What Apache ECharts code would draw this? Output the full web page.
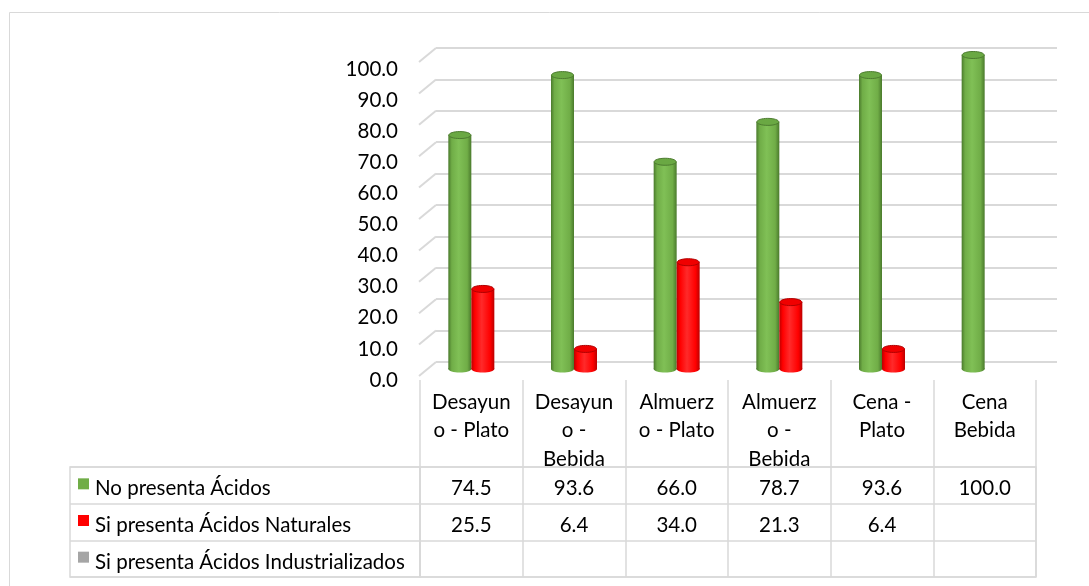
<!DOCTYPE html>
<html>
<head>
<meta charset="utf-8">
<script src="https://cdn.jsdelivr.net/npm/echarts@6.0.0/dist/echarts.min.js"></script>
<style>
  html, body { margin: 0; padding: 0; background: #fff; }
  #chart { width: 1089px; height: 586px; }
</style>
</head>
<body>
<div id="chart"></div>
<script>
// categories (as wrapped in the table header)
const categories = ['Desayun\no - Plato', 'Desayun\no -\nBebida', 'Almuerz\no - Plato', 'Almuerz\no -\nBebida', 'Cena -\nPlato', 'Cena\nBebida'];
const seriesNames = ['No presenta Ácidos', 'Si presenta Ácidos Naturales', 'Si presenta Ácidos Industrializados'];
const noPresenta = [74.5, 93.6, 66.0, 78.7, 93.6, 100.0];
const naturales = [25.5, 6.4, 34.0, 21.3, 6.4, null];
const industrializados = [null, null, null, null, null, null];
const tickValues = [0, 10, 20, 30, 40, 50, 60, 70, 80, 90, 100];

const FONT = 'Lato';
const FS = 20.5;
const GRID_C = '#d9d9d9';
const palette = [
  { base: '#70ad47', dark: '#4a7a2c', light: '#80c056', top: '#6aa843', edge: '#4d7c30' },
  { base: '#ff0000', dark: '#bb0000', light: '#ff2a2a', top: '#f00000', edge: '#b00000' },
  { base: '#a5a5a5', dark: '#7f7f7f', light: '#b5b5b5', top: '#a0a0a0', edge: '#808080' }
];
const allSeries = [noPresenta, naturales, industrializados];

function bodyGrad(c) {
  return new echarts.graphic.LinearGradient(0, 0, 1, 0, [
    { offset: 0, color: c.dark },
    { offset: 0.15, color: c.base },
    { offset: 0.45, color: c.light },
    { offset: 0.82, color: c.base },
    { offset: 1, color: c.dark }
  ]);
}

const BAR_W = 23;
function cylinder(si) {
  const c = palette[si];
  const off = (si === 0 ? -0.5 : 0.5) * BAR_W;
  return function (params, api) {
    const v = api.value(1);
    if (v == null || isNaN(v)) return null;
    const t = api.coord([api.value(0), v]);
    const b = api.coord([api.value(0), 0]);
    const cx = t[0] + off;
    const rx = BAR_W / 2, ry = 3.5;
    return {
      type: 'group',
      children: [
        { type: 'ellipse', shape: { cx: cx, cy: b[1], rx: rx, ry: ry }, style: { fill: bodyGrad(c) } },
        { type: 'rect', shape: { x: cx - rx, y: t[1], width: BAR_W, height: b[1] - t[1] }, style: { fill: bodyGrad(c) } },
        { type: 'ellipse', shape: { cx: cx, cy: t[1], rx: rx - 0.5, ry: ry }, style: { fill: c.top, stroke: c.edge, lineWidth: 1 } }
      ]
    };
  };
}

const tableCells = [];
allSeries.forEach((arr, r) => arr.forEach((v, col) => { if (v != null) tableCells.push([col, r, v]); }));

const chart = echarts.init(document.getElementById('chart'));

chart.setOption({
  animation: false,
  backgroundColor: '#fff',
  graphic: [{
    type: 'rect', shape: { x: 9.5, y: 12.5, width: 1100, height: 600 },
    style: { fill: 'none', stroke: GRID_C, lineWidth: 1 }, z: -1
  }],
  grid: [
    { left: 436, right: 32, top: 48, bottom: 224 },          // back wall
    { left: 420, right: 53, top: 55, bottom: 217 },          // bars
    { left: 420, right: 53, top: 69, bottom: 206 },          // front labels
    { left: 420, right: 53, top: 467, bottom: 9, show: true, borderColor: GRID_C, borderWidth: 1.5 }, // table values
    { left: 70, width: 350, top: 467, bottom: 9, show: true, borderColor: GRID_C, borderWidth: 1.5 }   // table row headers
  ],
  xAxis: [
    { gridIndex: 0, type: 'value', min: 0, max: 1, show: false },
    { gridIndex: 1, type: 'category', data: categories, show: false },
    {
      gridIndex: 2, type: 'category', data: categories,
      axisLine: { show: false },
      axisTick: { show: true, length: 87, lineStyle: { color: GRID_C, width: 1.5 } },
      axisLabel: { interval: 0, margin: 8, lineHeight: 28.5, fontFamily: FONT, fontSize: FS, color: '#000', align: 'center' }
    },
    {
      gridIndex: 3, type: 'category', data: categories,
      axisLine: { show: false }, axisTick: { show: false }, axisLabel: { show: false },
      splitLine: { show: true, interval: 0, lineStyle: { color: GRID_C, width: 1.5 } }
    },
    { gridIndex: 4, type: 'category', data: [''], show: false }
  ],
  yAxis: [
    {
      gridIndex: 0, type: 'value', min: 0, max: 100, interval: 10,
      axisLine: { show: false }, axisTick: { show: false }, axisLabel: { show: false },
      splitLine: { show: true, lineStyle: { color: GRID_C, width: 2 } }
    },
    { gridIndex: 1, type: 'value', min: 0, max: 100, show: false },
    {
      gridIndex: 2, type: 'value', min: 0, max: 100, interval: 10,
      axisLine: { show: false }, axisTick: { show: false }, splitLine: { show: false },
      axisLabel: { margin: 22, padding: [5, 0, 0, 0], fontFamily: FONT, fontSize: FS, color: '#000', formatter: v => v.toFixed(1) }
    },
    {
      gridIndex: 3, type: 'category', data: [0, 1, 2], inverse: true,
      axisLine: { show: false }, axisTick: { show: false }, axisLabel: { show: false },
      splitLine: { show: true, interval: 0, lineStyle: { color: GRID_C, width: 1.5 } }
    },
    {
      gridIndex: 4, type: 'category', data: seriesNames, inverse: true,
      axisLine: { show: false }, axisTick: { show: false },
      splitLine: { show: true, interval: 0, lineStyle: { color: GRID_C, width: 1.5 } },
      axisLabel: {
        inside: true, margin: 8, align: 'left', interval: 0, padding: [7, 0, 0, 0],
        formatter: (v, i) => '{s' + i + '|}{t|' + v + '}',
        rich: {
          s0: { width: 11, height: 11, backgroundColor: palette[0].base, verticalAlign: 'top' },
          s1: { width: 11, height: 11, backgroundColor: palette[1].base, verticalAlign: 'top' },
          s2: { width: 11, height: 11, backgroundColor: palette[2].base, verticalAlign: 'top' },
          t: { fontFamily: FONT, fontSize: FS, color: '#000', padding: [0, 0, 0, 6] }
        }
      }
    }
  ],
  series: [
    {
      type: 'custom', xAxisIndex: 0, yAxisIndex: 0, z: 1,
      data: tickValues.map(v => [0, v]),
      renderItem: (params, api) => {
        const p = api.coord([0, api.value(1)]);
        return {
          type: 'line', shape: { x1: p[0], y1: p[1], x2: p[0] - 17, y2: p[1] + 14 },
          style: { stroke: GRID_C, lineWidth: 2 }
        };
      }
    },
    ...allSeries.map((arr, si) => ({
      type: 'custom', name: seriesNames[si], xAxisIndex: 1, yAxisIndex: 1, z: 5,
      encode: { x: 0, y: 1 },
      data: arr.map((v, i) => [i, v]).filter(d => d[1] != null),
      renderItem: cylinder(si)
    })),
    {
      type: 'custom', xAxisIndex: 3, yAxisIndex: 3, z: 5,
      encode: { x: 0, y: 1 },
      data: tableCells,
      renderItem: (params, api) => {
        const p = api.coord([api.value(0), api.value(1)]);
        return {
          type: 'text',
          style: {
            x: p[0], y: p[1] + 3, text: api.value(2).toFixed(1), align: 'center', verticalAlign: 'middle',
            font: FS + 'px ' + FONT, fill: '#000'
          }
        };
      }
    }
  ]
});
</script>
</body>
</html>
